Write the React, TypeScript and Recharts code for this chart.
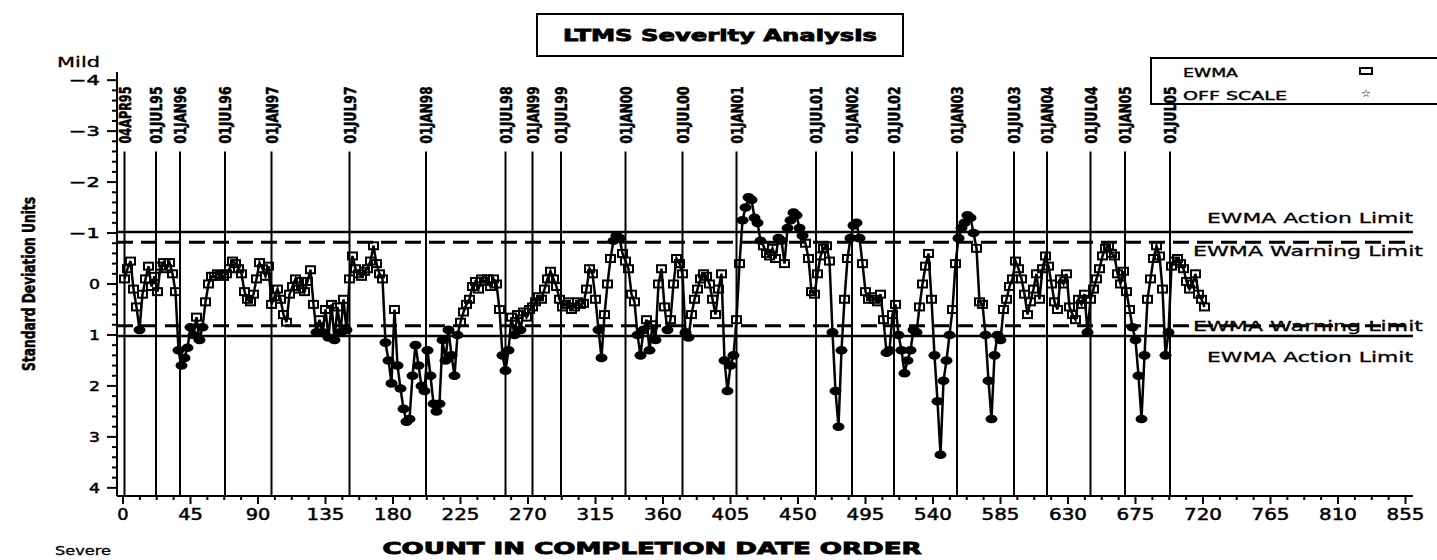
import React from 'react';
import { LineChart, Line, XAxis, YAxis, ReferenceLine } from 'recharts';

// EWMA values, one every second test (count 1, 3, 5, ...)
const ewma = [
  -0.1, -0.3, -0.45, 0.1, 0.45, 0.9, 0.2, -0.1, -0.35, 0.05,
  -0.15, 0.15, -0.35, -0.42, -0.3, -0.42, -0.2, 0.15, 1.3, 1.6,
  1.45, 1.25, 0.85, 1.0, 0.65, 1.1, 0.85, 0.35, 0.0, -0.15,
  -0.15, -0.2, -0.18, -0.15, -0.2, -0.3, -0.45, -0.4, -0.3, -0.2,
  0.15, 0.3, 0.35, 0.2, -0.1, -0.42, -0.3, -0.15, -0.35, 0.4,
  0.25, 0.1, 0.3, 0.6, 0.75, 0.2, 0.05, -0.1, 0.1, -0.05,
  0.15, -0.05, -0.28, 0.4, 0.95, 0.7, 0.95, 0.5, 1.05, 0.4,
  1.1, 0.45, 0.95, 0.3, 0.9, -0.1, -0.55, -0.3, -0.2, -0.15,
  -0.25, -0.3, -0.45, -0.75, -0.4, -0.2, -0.1, 1.15, 1.5, 1.95,
  0.5, 1.6, 2.05, 2.45, 2.7, 2.65, 1.8, 1.2, 1.6, 2.0,
  2.1, 1.3, 1.8, 2.35, 2.5, 2.35, 1.1, 1.5, 0.9, 1.4,
  1.8, 1.0, 0.75, 0.55, 0.4, 0.3, 0.05, -0.05, 0.1, -0.1,
  -0.05, -0.1, 0.05, -0.1, 0.0, 0.5, 1.4, 1.7, 1.3, 0.65,
  1.0, 0.6, 0.9, 0.55, 0.65, 0.5, 0.45, 0.35, 0.25, 0.3,
  0.1, -0.1, -0.25, -0.1, 0.05, 0.3, 0.45, 0.4, 0.35, 0.5,
  0.45, 0.35, 0.4, 0.38, 0.1, -0.3, -0.2, 0.3, 0.9, 1.45,
  0.6, 0.0, -0.5, -0.85, -0.95, -0.9, -0.6, -0.45, -0.3, 0.2,
  0.35, 1.0, 1.4, 0.9, 0.7, 1.3, 0.8, 1.1, 0.0, -0.3,
  0.45, 0.9, 0.7, 0.0, -0.5, -0.4, -0.2, 0.95, 1.05, 0.6,
  0.3, 0.1, -0.1, -0.2, -0.15, 0.0, 0.3, 0.6, 0.1, -0.2,
  1.5, 2.1, 1.6, 1.4, 0.7, -0.4, -1.25, -1.5, -1.7, -1.65,
  -1.3, -1.2, -0.85, -0.75, -0.6, -0.55, -0.7, -0.5, -0.9, -0.85,
  -0.4, -1.1, -1.25, -1.4, -1.35, -1.1, -0.95, -0.8, -0.5, 0.15,
  0.2, -0.2, -0.55, -0.7, -0.75, -0.45, 0.95, 2.1, 2.8, 1.3,
  0.3, -0.5, -0.9, -1.15, -1.2, -0.9, -0.4, 0.15, 0.3, 0.25,
  0.3, 0.35, 0.2, 0.7, 1.35, 1.3, 0.6, 0.4, 1.0, 1.3,
  1.75, 1.5, 1.3, 0.9, 0.95, 0.45, 0.0, -0.35, -0.6, 0.3,
  1.4, 2.3, 3.35, 1.9, 1.5, 1.0, 0.5, -0.4, -0.9, -1.1,
  -1.2, -1.35, -1.3, -1.0, -0.7, 0.35, 0.4, 1.0, 1.9, 2.65,
  1.4, 1.0, 1.1, 0.5, 0.3, 0.05, -0.1, -0.45, -0.3, -0.1,
  0.2, 0.6, 0.35, 0.1, -0.2, 0.3, -0.3, -0.55, -0.35, 0.0,
  0.35, 0.5, -0.1, 0.0, -0.2, 0.45, 0.6, 0.7, 0.3, 0.4,
  0.2, 0.95, 0.3, 0.1, -0.1, -0.3, -0.55, -0.7, -0.75, -0.6,
  -0.55, -0.2, 0.0, -0.25, 0.15, 0.5, 0.85, 1.1, 1.8, 2.65,
  1.4, 0.3, -0.1, -0.5, -0.75, -0.55, 0.1, 1.4, 0.95, -0.35,
  -0.45, -0.5, -0.4, -0.3, -0.05, 0.1, 0.0, -0.2, 0.2, 0.3, 0.45,
];
const counts = ewma.map((_, i) => 1 + i * 2);

const dateCounts = [1, 22, 38, 68, 99, 151, 202, 255, 273, 292, 335, 373, 409, 462, 486, 514, 556, 594, 616, 645, 668, 698];
const dateLabels = [
  '04APR95', '01JUL95', '01JAN96', '01JUL96', '01JAN97', '01JUL97', '01JAN98', '01JUL98', '01JAN99', '01JUL99',
  '01JAN00', '01JUL00', '01JAN01', '01JUL01', '01JAN02', '01JUL02', '01JAN03', '01JUL03', '01JAN04', '01JUL04',
  '01JAN05', '01JUL05',
];

const xMajorTicks = [0, 45, 90, 135, 180, 225, 270, 315, 360, 405, 450, 495, 540, 585, 630, 675, 720, 765, 810, 855];
const yMajorTicks = [-4, -3, -2, -1, 0, 1, 2, 3, 4];
const yTickLabels = ['\u22124', '\u22123', '\u22122', '\u22121', '0', '1', '2', '3', '4'];

const ACTION = 1.02;
const WARNING = 0.82;

const data = counts.map((c, i) => ({ count: c, ewma: ewma[i] }));

// minor tick positions (4 per 45 on x, 5 per unit on y)
const xTicksAll: number[] = [];
for (let k = 0; k <= 76; k++) xTicksAll.push(k * 11.25);
const yTicksAll: number[] = [];
for (let k = 0; k <= 40; k++) yTicksAll.push(Math.round((-4 + k * 0.2) * 10) / 10);

const SAS = 'DejaVu Sans, Verdana, sans-serif';
const NARROW = 'Liberation Sans Narrow, DejaVu Sans Condensed, Liberation Sans, sans-serif';

const XTick = (props: any) => {
  const { x, y, payload } = props;
  const idx = xMajorTicks.indexOf(payload.value);
  if (idx < 0) return <line x1={x} x2={x} y1={y} y2={y + 4} stroke="#000" strokeWidth={2} />;
  const label = String(xMajorTicks[idx]);
  return (
    <g>
      <line x1={x} x2={x} y1={y} y2={y + 8} stroke="#000" strokeWidth={2} />
      <text x={x} y={y + 24} textAnchor="middle" fontFamily={SAS} fontSize={16}
        stroke="#000" strokeWidth={0.5}
        textLength={label.length * 13.3 - 2} lengthAdjust="spacingAndGlyphs">{label}</text>
    </g>
  );
};

const YTick = (props: any) => {
  const { x, y, payload } = props;
  const idx = yMajorTicks.findIndex((t) => Math.abs(t - payload.value) < 1e-6);
  if (idx < 0) return <line x1={x - 5} x2={x} y1={y} y2={y} stroke="#000" strokeWidth={2} />;
  const label = yTickLabels[idx];
  return (
    <g>
      <line x1={x - 10} x2={x} y1={y} y2={y} stroke="#000" strokeWidth={2} />
      <text x={x - 17} y={y + 5} textAnchor="end" fontFamily={SAS} fontSize={14}
        stroke="#000" strokeWidth={0.5}
        textLength={label.length > 1 ? 31 : 11} lengthAdjust="spacingAndGlyphs">{label}</text>
    </g>
  );
};

const Marker = (props: any) => {
  const { cx, cy, value, index } = props;
  if (cx == null || cy == null) return <g key={index} />;
  if (Math.abs(value) > WARNING) {
    return <ellipse key={index} cx={cx} cy={cy} rx={6} ry={4.3} fill="#000" />;
  }
  return <rect key={index} x={cx - 4.5} y={cy - 3.5} width={9} height={7} fill="none" stroke="#000" strokeWidth={2} />;
};

const DateLabel = ({ viewBox, text }: any) => {
  if (!viewBox) return null;
  const x = viewBox.x + 6;
  const y = viewBox.y - 8;
  return (
    <text x={x} y={y} transform={`rotate(-90 ${x} ${y})`} fontFamily={NARROW} fontWeight="bold" fontSize={15}
      stroke="#000" strokeWidth={0.5} textLength={57} lengthAdjust="spacingAndGlyphs">{text}</text>
  );
};

const LimitLabel = ({ viewBox, text, dx, dy, len }: any) => {
  if (!viewBox) return null;
  return (
    <text x={viewBox.x + viewBox.width + dx} y={viewBox.y + dy} textAnchor="end" fontFamily={SAS} fontSize={14.5}
      stroke="#000" strokeWidth={0.3} textLength={len} lengthAdjust="spacingAndGlyphs">{text}</text>
  );
};

export default function App() {
  return (
    <div style={{ position: 'absolute', left: 0, top: 0, width: 1437, height: 560, background: '#fff' }}>
      <LineChart width={1437} height={560} data={data} margin={{ top: 72, right: 24, bottom: 0, left: 0 }}>
        <XAxis dataKey="count" type="number" domain={[-4, 860]} allowDataOverflow ticks={xTicksAll} interval={0}
          tick={<XTick />} tickLine={false} tickSize={0} tickMargin={0} height={64}
          axisLine={{ stroke: '#000', strokeWidth: 2 }} />
        <YAxis type="number" domain={[-4.16, 4.16]} reversed allowDataOverflow ticks={yTicksAll} interval={0}
          tick={<YTick />} tickLine={false} tickSize={0} tickMargin={0} width={117}
          axisLine={{ stroke: '#000', strokeWidth: 2 }} />

        {dateCounts.map((c, i) => (
          <ReferenceLine key={dateLabels[i]} segment={[{ x: c, y: -2.6 }, { x: c, y: 4.16 }]}
            stroke="#000" strokeWidth={2}
            label={(p: any) => <DateLabel viewBox={p.viewBox} text={dateLabels[i]} />} />
        ))}

        <ReferenceLine y={-ACTION} stroke="#000" strokeWidth={2.5}
          label={(p: any) => <LimitLabel viewBox={p.viewBox} text="EWMA Action Limit" dx={0} dy={-9.5} len={206} />} />
        <ReferenceLine y={-WARNING} stroke="#000" strokeWidth={3} strokeDasharray="16 8"
          label={(p: any) => <LimitLabel viewBox={p.viewBox} text="EWMA Warning Limit" dx={10} dy={13.5} len={230} />} />
        <ReferenceLine y={WARNING} stroke="#000" strokeWidth={3} strokeDasharray="16 8"
          label={(p: any) => <LimitLabel viewBox={p.viewBox} text="EWMA Warning Limit" dx={10} dy={5} len={230} />} />
        <ReferenceLine y={ACTION} stroke="#000" strokeWidth={2.5}
          label={(p: any) => <LimitLabel viewBox={p.viewBox} text="EWMA Action Limit" dx={0} dy={26.5} len={206} />} />

        <Line type="linear" dataKey="ewma" stroke="#000" strokeWidth={2.5} dot={Marker} activeDot={false}
          isAnimationActive={false} />
      </LineChart>

      <svg width={1437} height={560} style={{ position: 'absolute', left: 0, top: 0, pointerEvents: 'none' }}>
        <rect x={537} y={14} width={366} height={42} fill="none" stroke="#000" strokeWidth={2} />
        <text x={720} y={41} textAnchor="middle" fontFamily={SAS} fontWeight="bold" fontSize={16}
          stroke="#000" strokeWidth={0.8} textLength={314} lengthAdjust="spacingAndGlyphs">LTMS Severity Analysis</text>

        <rect x={1151} y={58} width={300} height={46} fill="none" stroke="#000" strokeWidth={2} />
        <text x={1183} y={77} fontFamily={SAS} fontSize={13} stroke="#000" strokeWidth={0.4} textLength={55}
          lengthAdjust="spacingAndGlyphs">EWMA</text>
        <rect x={1360} y={68} width={12} height={6} fill="none" stroke="#000" strokeWidth={2} />
        <text x={1183} y={100} fontFamily={SAS} fontSize={13} stroke="#000" strokeWidth={0.4} textLength={104}
          lengthAdjust="spacingAndGlyphs">OFF SCALE</text>
        <text x={1366} y={97} textAnchor="middle" fontFamily={SAS} fontSize={11}>{'\u2606'}</text>

        <text x={57} y={67} fontFamily={SAS} fontSize={14} stroke="#000" strokeWidth={0.3} textLength={43}
          lengthAdjust="spacingAndGlyphs">Mild</text>
        <text x={55} y={555} fontFamily={SAS} fontSize={12} stroke="#000" strokeWidth={0.3} textLength={56}
          lengthAdjust="spacingAndGlyphs">Severe</text>

        <text x={35} y={284} transform="rotate(-90 35 284)" textAnchor="middle" fontFamily={NARROW} fontWeight="bold"
          fontSize={17} stroke="#000" strokeWidth={0.5} textLength={174} lengthAdjust="spacingAndGlyphs">Standard Deviation Units</text>
        <text x={652} y={554} textAnchor="middle" fontFamily={SAS} fontWeight="bold" fontSize={15}
          stroke="#000" strokeWidth={0.8} textLength={539} lengthAdjust="spacingAndGlyphs">COUNT IN COMPLETION DATE ORDER</text>
      </svg>
    </div>
  );
}
